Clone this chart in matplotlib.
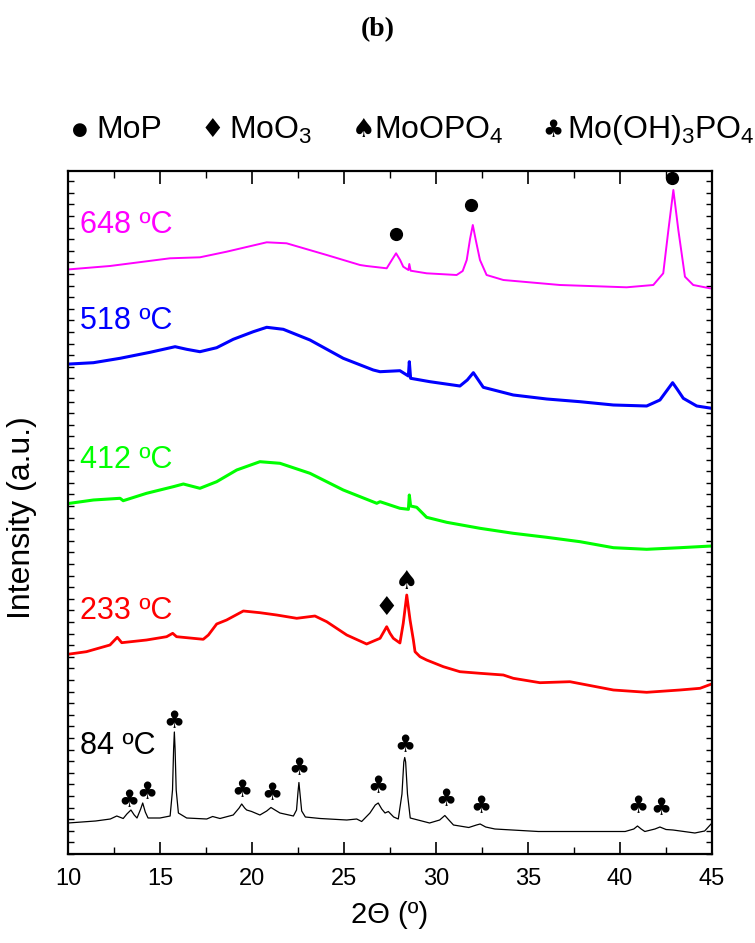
import numpy as np
import matplotlib
matplotlib.use("Agg")
import matplotlib.pyplot as plt
from matplotlib.ticker import MultipleLocator, NullFormatter

plt.rcParams['font.family'] = ['Liberation Sans', 'DejaVu Sans']
plt.rcParams['mathtext.fontset'] = 'custom'
plt.rcParams['mathtext.rm'] = 'Liberation Sans'
plt.rcParams['mathtext.it'] = 'Liberation Sans'

# ---- data (2theta in deg, intensity in a.u., curves already stacked) ----
x_84 = [10.0, 11.5, 12.3, 12.65, 13.0, 13.2, 13.42, 13.6, 13.75, 13.95, 14.06, 14.2, 14.35,
        15.0, 15.55, 15.68, 15.74, 15.78, 15.82, 15.88, 16.0, 16.45, 17.54, 17.86, 18.26,
        18.98, 19.3, 19.44, 19.6, 19.71, 19.98, 20.43, 20.8, 21.03, 21.25, 21.52, 22.25,
        22.42, 22.5, 22.55, 22.6, 22.7, 22.9, 23.7, 25.15, 25.69, 25.96, 26.41, 26.7, 26.86,
        27.05, 27.23, 27.41, 27.7, 27.95, 28.15, 28.25, 28.3, 28.35, 28.45, 28.6, 29.65,
        30.2, 30.48, 30.7, 30.95, 31.78, 32.2, 32.4, 32.7, 33.2, 35.56, 37.92, 40.28, 40.75,
        40.95, 41.15, 41.35, 41.9, 42.17, 42.5, 42.88, 44.07, 44.6, 45.0]
y_84 = [31, 33, 35, 38, 35.5, 40, 44, 39, 36, 45, 51, 42, 36,
        36, 38, 64, 105, 122, 105, 64, 41, 36, 35, 37.5, 35.5,
        39, 46, 50, 46, 44, 42.5, 39, 43, 46.5, 44, 41, 38,
        44, 62, 71.5, 62, 43, 37, 35.5, 34, 35, 32.5, 41, 49, 51,
        45, 41, 42.5, 37, 35, 60, 92, 96.5, 92, 60, 36, 31,
        34, 38.5, 34, 29, 26.5, 29, 30, 27, 25, 22.5, 22.5, 22.5, 25,
        28, 25, 22.5, 25, 27, 24.5, 24, 21, 23, 31]

x_233 = [10.1, 11.0, 12.28, 12.68, 12.92, 14.27, 15.36, 15.69, 15.9, 17.35, 17.63, 18.08,
         18.62, 19.53, 20.43, 21.34, 22.43, 23.42, 24.06, 25.15, 26.23, 26.96, 27.32, 27.5,
         27.68, 28.04, 28.22, 28.41, 28.59, 28.77, 28.86, 29.13, 29.49, 30.4, 31.3, 32.39,
         33.66, 34.2, 35.65, 37.28, 39.64, 41.45, 43.26, 44.35, 44.98]
y_233 = [200, 202.3, 209, 216.7, 211.3, 214, 217.3, 220.7, 217.3, 214.7, 219, 230,
         234, 243, 241.3, 239, 235.7, 238, 232.3, 219, 210, 215.7, 227.3, 220.7,
         215.7, 211, 230.7, 259, 234, 214, 202.3, 197.3, 194, 187.3, 182.3, 180.7,
         179, 175.7, 171.3, 172.3, 164, 161.7, 164, 165.7, 170]

x_412 = [10.1, 11.38, 12.83, 13.0, 14.27, 15.72, 16.27, 17.17, 18.08, 19.17, 20.43, 21.52,
         23.15, 24.96, 26.78, 26.96, 28.04, 28.5, 28.55, 28.62, 28.95, 29.49, 30.58, 32.39,
         34.2, 36.02, 37.83, 39.64, 41.45, 43.26, 44.98]
y_412 = [350.7, 354, 355.7, 353.3, 360.7, 367.3, 370, 365.7, 372.3, 384, 392.3, 390.7,
         380.7, 364, 350.7, 352.3, 345.7, 344.7, 359, 348, 346.7, 336.7, 331.7, 325.7,
         320.7, 316.7, 312.3, 306.3, 304.7, 306.3, 308]

x_518 = [10.1, 11.38, 12.83, 14.46, 15.82, 16.45, 17.17, 18.08, 18.98, 20.07, 20.8, 21.7,
         23.15, 24.96, 26.59, 26.96, 28.04, 28.5, 28.55, 28.62, 29.67, 31.3, 31.7, 32.03,
         32.3, 32.57, 34.2, 36.02, 37.83, 39.64, 41.45, 42.17, 42.86, 43.1, 43.44, 44.17, 44.98]
y_518 = [490, 491.3, 495.7, 501.7, 507.3, 504.7, 502.3, 506.3, 514.7, 522.3, 526.7, 524.7,
         514, 495.7, 484, 482.3, 483.3, 478, 492.3, 475.7, 472.3, 468, 474, 481.3,
         474, 466.7, 459, 455, 452.3, 449, 448, 454, 471.3, 465, 455.7, 448, 445.7]

x_648 = [10.1, 12.28, 15.54, 17.17, 18.62, 20.8, 21.88, 24.06, 25.87, 26.23, 27.32, 27.6,
         27.83, 28.05, 28.22, 28.5, 28.55, 28.62, 29.49, 31.12, 31.45, 31.67, 31.85, 32.0,
         32.15, 32.39, 32.75, 33.66, 36.74, 40.36, 41.81, 42.35, 42.63, 42.9, 43.17, 43.53,
         43.98, 44.89]
y_648 = [584.7, 588, 595.7, 596.7, 602.3, 611.7, 610.7, 599, 589, 588, 585.7, 594,
         600.7, 594, 587.3, 584, 590, 583.3, 580.7, 579, 583, 594, 615, 629,
         615, 594, 579, 574, 569, 566.7, 569, 580.7, 624, 664, 624, 577.3,
         569, 565.7]

# phase markers
club_x = [13.3, 14.3, 15.77, 19.46, 21.06, 22.54, 26.86, 28.31, 30.53, 32.44, 40.95, 42.24]
club_y = [54, 62, 133, 64, 61, 86, 68, 109, 55, 48, 48, 46]
dot_x = [27.83, 31.9, 42.8]
dot_y = [620, 649, 676]
diamond_x, diamond_y = [27.32], [246]
spade_x, spade_y = [28.41], [272]

temps = ['84 ºC', '233 ºC', '412 ºC', '518 ºC', '648 ºC']
label_y = [108, 243, 394, 533, 629]
colors = ['black', '#ff0000', '#00ff00', '#0000ff', '#ff00ff']

# ---- figure ----
fig = plt.figure(figsize=(7.55, 9.43), dpi=100)
ax = fig.add_axes([68/755, 89/943, 644/755, 683/943])

series = [(x_84, y_84), (x_233, y_233), (x_412, y_412), (x_518, y_518), (x_648, y_648)]
widths = [0.9, 2.0, 2.2, 2.2, 1.4]
for (xs, ys), c, lw in zip(series, colors, widths):
    ax.plot(xs, ys, color=c, lw=lw)

for name, c, ly in zip(temps, colors, label_y):
    ax.text(10.65, ly, name, color=c, fontsize=22, va='center', ha='left')

sym = dict(ha='center', va='center', family='DejaVu Sans')
for xx, yy in zip(club_x, club_y):
    ax.text(xx, yy, '\u2663', fontsize=17, **sym)
for xx, yy in zip(diamond_x, diamond_y):
    ax.text(xx, yy, '\u2666', fontsize=19, **sym)
for xx, yy in zip(spade_x, spade_y):
    ax.text(xx, yy, '\u2660', fontsize=19, **sym)
ax.plot(dot_x, dot_y, 'o', color='black', ms=8.5, ls='none')

ax.set_xlim(10, 45)
ax.set_ylim(0, 683)
ax.xaxis.set_major_locator(MultipleLocator(5))
ax.xaxis.set_minor_locator(MultipleLocator(2.5))
ax.yaxis.set_major_locator(MultipleLocator(11.6))
ax.yaxis.set_major_formatter(NullFormatter())
ax.tick_params(axis='x', which='major', direction='in', length=9, width=1.2,
               top=True, labelsize=17, pad=10)
ax.tick_params(axis='x', which='minor', direction='in', length=5, width=1.0, top=True)
ax.tick_params(axis='y', which='major', direction='in', length=4, width=1.0, right=True)
for sp in ax.spines.values():
    sp.set_linewidth(1.6)

ax.set_xlabel('2\u0398 (\u00ba)', fontsize=21, labelpad=8)
fig.text(22/755, 1 - 518/943, 'Intensity (a.u.)', rotation=90, fontsize=23,
         ha='center', va='center')

# phase legend across the top
ly = 1 - 130/943
fig.text(80/755, ly, '\u25cf', fontsize=13, **sym)
fig.text(96/755, ly, 'MoP', fontsize=23, ha='left', va='center')
fig.text(212/755, ly, '\u2666', fontsize=19, **sym)
fig.text(229/755, ly, 'MoO$_3$', fontsize=23, ha='left', va='center')
fig.text(364/755, ly, '\u2660', fontsize=19, **sym)
fig.text(374/755, ly, 'MoOPO$_4$', fontsize=23, ha='left', va='center')
fig.text(553/755, ly, '\u2663', fontsize=17, **sym)
fig.text(567/755, ly, 'Mo(OH)$_3$PO$_4$', fontsize=23, ha='left', va='center')

fig.text(378/755, 1 - 30/943, '(b)', fontsize=20, fontweight='bold',
         family='Liberation Serif', ha='center', va='center')

fig.savefig('out.png', dpi=100)
